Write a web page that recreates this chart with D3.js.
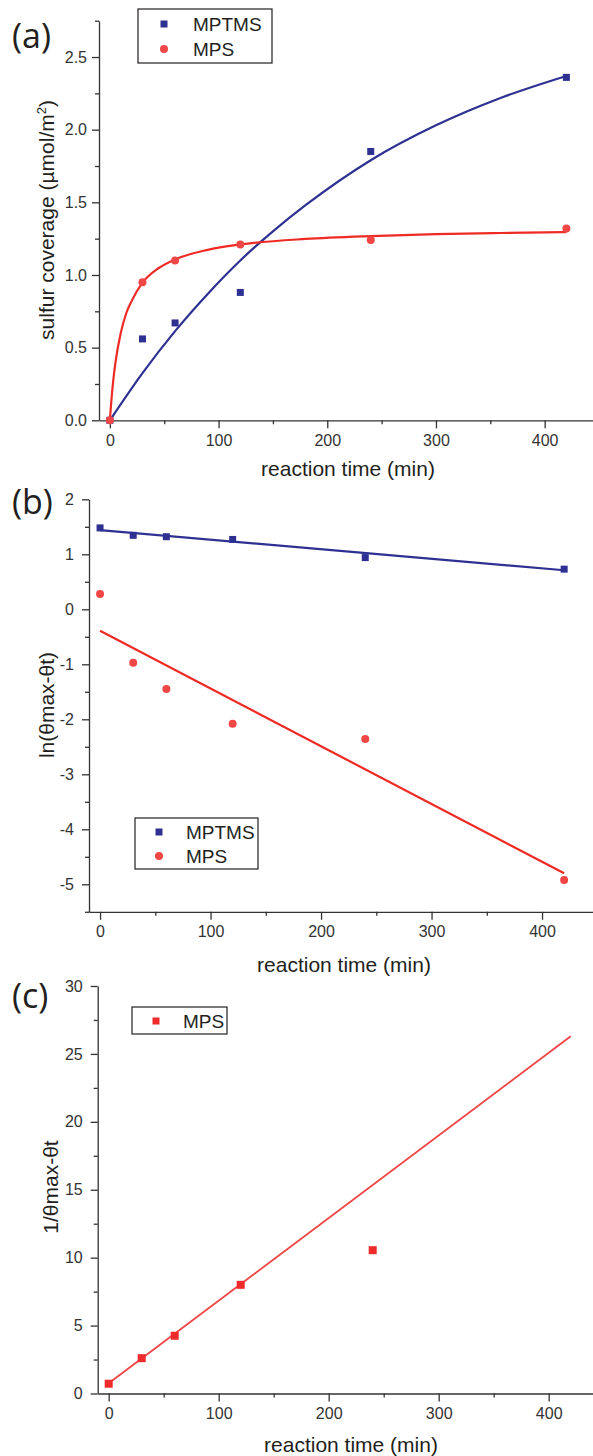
<!DOCTYPE html>
<html>
<head>
<meta charset="utf-8">
<script src="https://cdn.jsdelivr.net/npm/d3@7"></script>
<style>
  body { margin: 0; background: #fff; }
  text { font-family: "Liberation Sans", Arial, sans-serif; fill: #231f20; }
  .axis path, .axis line { stroke: #333; stroke-width: 1.3; }
  .axis text { font-size: 16px; fill: #333; font-family: "Liberation Sans", Arial, sans-serif; }
</style>
</head>
<body>
<svg id="chart" width="593" height="1456"></svg>
<script>
// ---- data ----
var timeMin = [0, 30, 60, 120, 240, 420];
var coverMPTMS = [0, 0.56, 0.67, 0.88, 1.85, 2.36];
var coverMPS = [0, 0.95, 1.10, 1.21, 1.24, 1.32];

// fitted curves of (a)
var fitMPTMSTime = [0, 30, 60, 90, 120, 150, 180, 240, 300, 360, 420];
var fitMPTMSCover = [0, 0.325, 0.614, 0.87, 1.10, 1.30, 1.48, 1.79, 2.03, 2.22, 2.37];
var fitMPSTime = [0, 1, 2, 5, 10, 15, 20, 30, 45, 60, 90, 120, 180, 240, 300, 360, 420];
var fitMPSCover = [0, 0.10, 0.19, 0.39, 0.60, 0.735, 0.82, 0.947, 1.048, 1.107, 1.173, 1.21, 1.248, 1.268, 1.281, 1.289, 1.295];

// (b) ln(θmax-θt)
var lnMPTMS = [1.48, 1.345, 1.32, 1.27, 0.94, 0.73];
var lnMPS = [0.28, -0.97, -1.45, -2.08, -2.36, -4.92];
var lineTime = [0, 420];
var lnFitMPTMS = [1.44, 0.71];
var lnFitMPS = [-0.39, -4.80];

// (c) 1/(θmax-θt)
var invTime = [0, 30, 60, 120, 240];
var invMPS = [0.72, 2.6, 4.25, 8.0, 10.55];
var invFitMPS = [0.75, 26.3];

var xMajor = [0, 100, 200, 300, 400];
var xMinor = [50, 150, 250, 350, 450];

var BLUE = "#2e3192", RED = "#ee2a24", REDPT = "#f04646";

var svg = d3.select("#chart");

function zip(xs, ys) {
    return xs.map(function (x, i) { return [x, ys[i]]; });
}

function axes(g, x, y, yMajor, yMinor, yFmt, yPad) {
    g.append("g").attr("class", "axis")
        .attr("transform", "translate(0," + y.range()[0] + ")")
        .call(d3.axisBottom(x).tickValues(xMinor).tickSize(4).tickFormat(""))
        .call(function (s) { s.select(".domain").remove(); });
    g.append("g").attr("class", "axis")
        .attr("transform", "translate(0," + y.range()[0] + ")")
        .call(d3.axisBottom(x).tickValues(xMajor).tickSize(8).tickSizeOuter(0).tickPadding(6));
    g.append("g").attr("class", "axis")
        .attr("transform", "translate(" + x.range()[0] + ",0)")
        .call(d3.axisLeft(y).tickValues(yMinor).tickSize(4).tickFormat(""))
        .call(function (s) { s.select(".domain").remove(); });
    g.append("g").attr("class", "axis")
        .attr("transform", "translate(" + x.range()[0] + ",0)")
        .call(d3.axisLeft(y).tickValues(yMajor).tickSize(7).tickSizeOuter(0).tickPadding(yPad).tickFormat(yFmt));
}

function squares(g, x, y, pts, color, size) {
    g.selectAll(null).data(pts).enter().append("rect")
        .attr("x", function (d) { return x(d[0]) - size / 2; })
        .attr("y", function (d) { return y(d[1]) - size / 2; })
        .attr("width", size).attr("height", size)
        .attr("fill", color);
}

function circles(g, x, y, pts, color, r) {
    g.selectAll(null).data(pts).enter().append("circle")
        .attr("cx", function (d) { return x(d[0]); })
        .attr("cy", function (d) { return y(d[1]); })
        .attr("r", r)
        .attr("fill", color);
}

function line(g, x, y, pts, color, w, curve) {
    g.append("path")
        .datum(pts)
        .attr("fill", "none")
        .attr("stroke", color)
        .attr("stroke-width", w)
        .attr("d", d3.line()
            .x(function (d) { return x(d[0]); })
            .y(function (d) { return y(d[1]); })
            .curve(curve || d3.curveLinear));
}

function titles(g, label, xt, yt, panelPos) {
    g.append("text")
        .attr("x", xt[0]).attr("y", xt[1])
        .attr("text-anchor", "middle")
        .style("font-size", "21px")
        .text("reaction time (min)");
    var yl = g.append("text")
        .attr("transform", "translate(" + yt[0] + "," + yt[1] + ") rotate(-90)")
        .attr("text-anchor", "middle")
        .style("font-size", "21px");
    yl.text(yt[2]);
    if (yt[3]) {
        yl.append("tspan").attr("dy", -8).style("font-size", "13px").text(yt[3]);
        yl.append("tspan").attr("dy", 8).text(")");
    }
    g.append("text")
        .attr("x", panelPos[0]).attr("y", panelPos[1])
        .style("font-family", "'Open Sans', 'Noto Sans', sans-serif")
        .style("font-size", "34px")
        .text(label);
}

function legend(g, box, rows) {
    g.append("rect")
        .attr("x", box[0]).attr("y", box[1])
        .attr("width", box[2]).attr("height", box[3])
        .attr("fill", "#fff").attr("stroke", "#231f20").attr("stroke-width", 1.2);
    rows.forEach(function (r) {
        if (r.shape === "square") {
            g.append("rect").attr("x", r.sx - 3.5).attr("y", r.sy - 3.5)
                .attr("width", 7).attr("height", 7).attr("fill", r.color);
        } else {
            g.append("circle").attr("cx", r.sx).attr("cy", r.sy).attr("r", 4).attr("fill", r.color);
        }
        g.append("text").attr("x", r.tx).attr("y", r.sy + 7)
            .style("font-size", "19px").text(r.name);
    });
}

// ---------- (a) ----------
var gA = svg.append("g");
var xA = d3.scaleLinear().domain([-10, 450]).range([99, 599]);
var yA = d3.scaleLinear().domain([0, 2.75]).range([420.3, 20.7]);
axes(gA, xA, yA, [0, 0.5, 1, 1.5, 2, 2.5], [0.25, 0.75, 1.25, 1.75, 2.25, 2.75], d3.format(".1f"), 5);
line(gA, xA, yA, zip(fitMPTMSTime, fitMPTMSCover), BLUE, 2.2, d3.curveMonotoneX);
line(gA, xA, yA, zip(fitMPSTime, fitMPSCover), RED, 2.2, d3.curveMonotoneX);
squares(gA, xA, yA, zip(timeMin, coverMPTMS), BLUE, 7);
circles(gA, xA, yA, zip(timeMin, coverMPS), REDPT, 4);
titles(gA, "(a)", [348, 476], [54, 220, "sulfur coverage (µmol/m", "2"], [12, 48]);
legend(gA, [138, 9, 134, 54], [
    { shape: "square", color: BLUE, name: "MPTMS", sx: 164, sy: 24, tx: 193 },
    { shape: "circle", color: REDPT, name: "MPS", sx: 164, sy: 49, tx: 193 }
]);

// ---------- (b) ----------
var gB = svg.append("g");
var xB = d3.scaleLinear().domain([-10, 450]).range([89, 597.3]);
var yB = d3.scaleLinear().domain([-5.5, 2]).range([911.8, 499.3]);
axes(gB, xB, yB, [-5, -4, -3, -2, -1, 0, 1, 2], [-5.5, -4.5, -3.5, -2.5, -1.5, -0.5, 0.5, 1.5],
    function (d) { return String(d); }, 8);
line(gB, xB, yB, zip(lineTime, lnFitMPTMS), BLUE, 2.2);
line(gB, xB, yB, zip(lineTime, lnFitMPS), RED, 2.2);
squares(gB, xB, yB, zip(timeMin, lnMPTMS), BLUE, 7);
circles(gB, xB, yB, zip(timeMin, lnMPS), REDPT, 4);
titles(gB, "(b)", [344, 972], [54, 705, "ln(θmax-θt)"], [12, 514]);
legend(gB, [135, 818, 123, 51], [
    { shape: "square", color: BLUE, name: "MPTMS", sx: 159, sy: 832, tx: 186 },
    { shape: "circle", color: REDPT, name: "MPS", sx: 159, sy: 856, tx: 186 }
]);

// ---------- (c) ----------
var gC = svg.append("g");
var xC = d3.scaleLinear().domain([-10, 450]).range([97.7, 603.7]);
var yC = d3.scaleLinear().domain([0, 30]).range([1393.5, 986]);
axes(gC, xC, yC, [0, 5, 10, 15, 20, 25, 30], [2.5, 7.5, 12.5, 17.5, 22.5, 27.5],
    function (d) { return String(d); }, 8);
line(gC, xC, yC, zip(lineTime, invFitMPS), "#ef4545", 1.8);
squares(gC, xC, yC, zip(invTime, invMPS), "#ee2a2a", 8);
titles(gC, "(c)", [351, 1452], [58, 1187, "1/θmax-θt"], [12, 1008]);
legend(gC, [132, 1007, 95, 27], [
    { shape: "square", color: "#ee2a2a", name: "MPS", sx: 156, sy: 1021, tx: 183 }
]);
</script>
</body>
</html>
